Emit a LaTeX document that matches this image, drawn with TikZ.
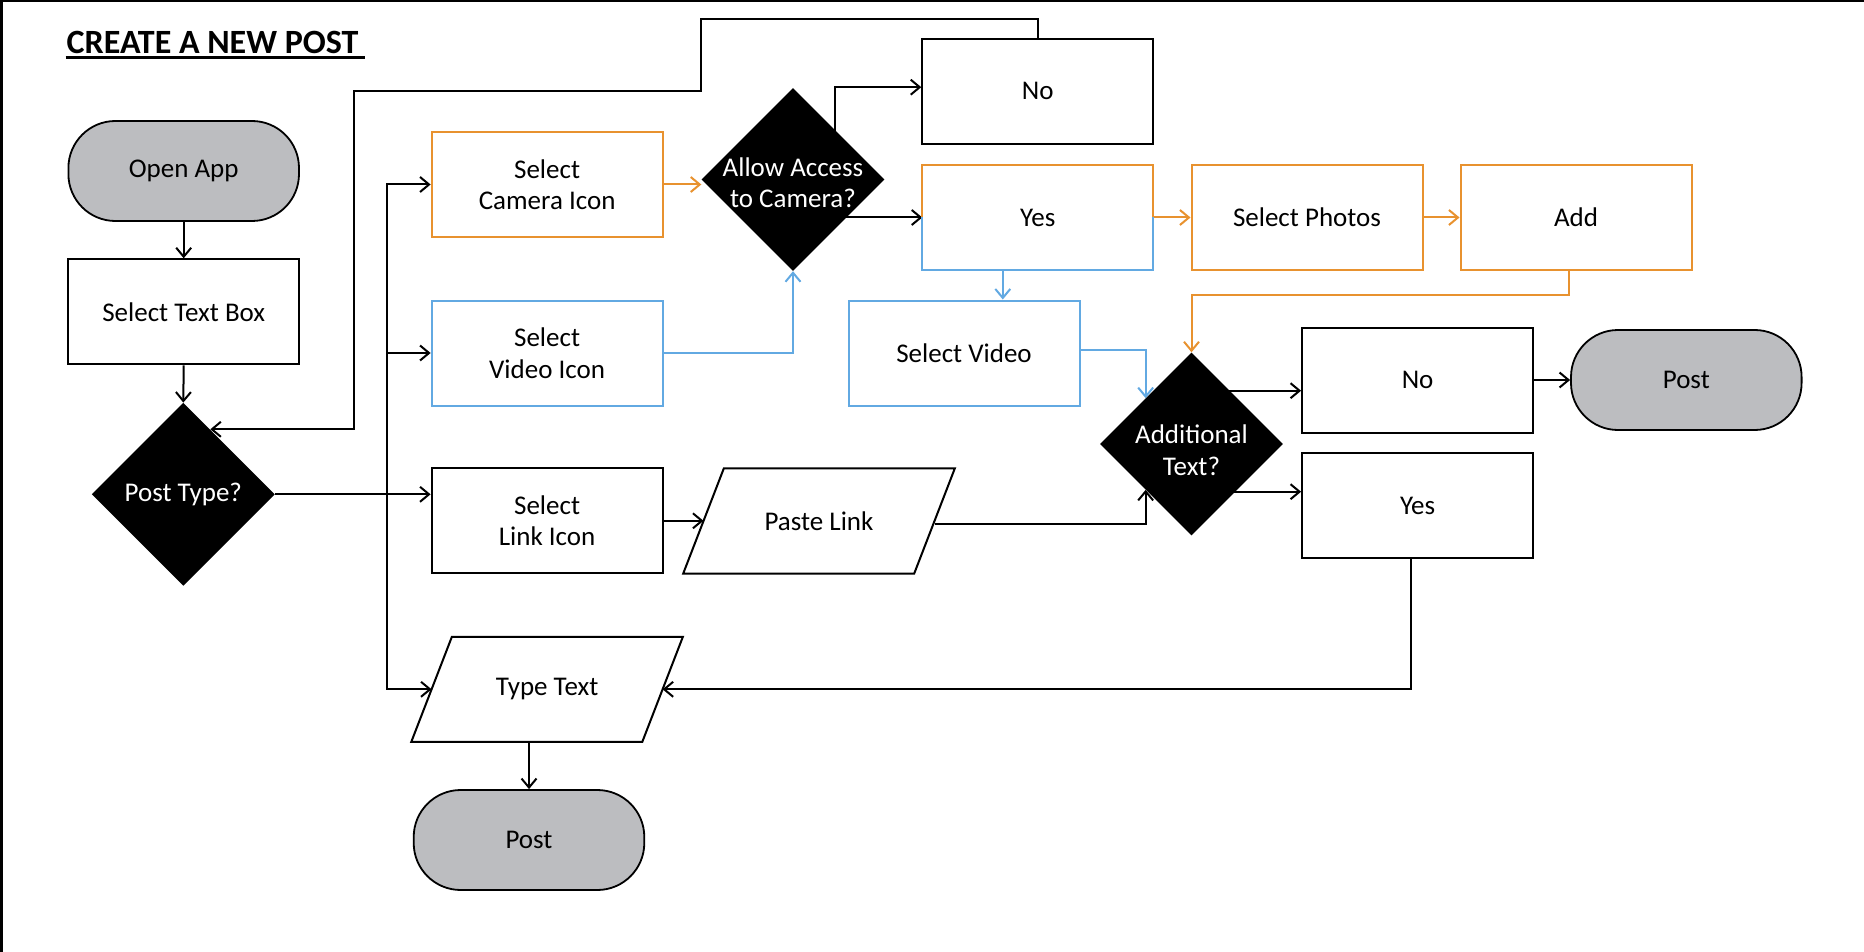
\documentclass[tikz,border=0pt]{standalone}
\usepackage{fontspec}
\setmainfont{Carlito}
\usetikzlibrary{arrows.meta,shapes.geometric,calc,backgrounds}
\definecolor{cgray}{HTML}{BCBDC0}
\definecolor{corange}{HTML}{E8922F}
\definecolor{cblue}{HTML}{62A9E2}
\begin{document}
\begin{tikzpicture}[x=1pt,y=-1pt,
  nbase/.style={font=\fontsize{27}{31.5}\selectfont, align=center, inner sep=0pt},
  nbox/.style={nbase, rectangle, draw=black, line width=2pt, fill=white, minimum width=231pt, minimum height=105pt},
  orangebox/.style={nbox, draw=corange},
  bluebox/.style={nbox, draw=cblue},
  nterm/.style={nbase, rectangle, rounded corners=47pt, draw=black, line width=1.8pt, fill=cgray, minimum width=230.6pt, minimum height=100pt},
  ndia/.style={diamond, aspect=1, fill=black, draw=none, minimum width=183pt, minimum height=183pt, inner sep=0pt},
  dlab/.style={nbase, text=white},
  npara/.style={nbase, minimum width=230.6pt, minimum height=104.7pt},
  paraline/.style={line width=2pt, line join=miter, fill=white},
  conn/.style={line width=2pt, -{Straight Barb[length=9pt,width=15pt]}},
  oconn/.style={conn, draw=corange},
  bconn/.style={conn, draw=cblue},
]
\useasboundingbox (0,0) rectangle (1864,952);
% frame
\draw[line width=2.5pt] (1.25,952) -- (1.25,1.25) -- (1864,1.25);
% title
\node[anchor=base west, font=\fontsize{34}{40}\selectfont\bfseries, inner sep=0pt] (title) at (66.5,53.3) {CREATE A NEW POST};
\draw[line width=2.5pt] ($(title.base west)+(-1,4.2)$) -- ($(title.base east)+(6,4.2)$);

% nodes
\node[nterm] (open) at (183.7,171) {Open App};
\node[nbox] (tbox) at (183.7,311.8) {Select Text Box};
\node[ndia, label={[dlab]center:Post Type?}] (pt) at (183.3,494.3) {};
\node[orangebox] (cam) at (547.1,184.5) {Select\\Camera Icon};
\node[bluebox] (vid) at (547.1,353) {Select\\Video Icon};
\node[nbox] (link) at (547.1,520.8) {Select\\Link Icon};
\node[npara] (ttext) at (547.1,689.3) {};
\node[npara] (paste) at (819,521) {};
\node[nterm] (post1) at (529,840) {Post};
\node[ndia, label={[dlab, yshift=-3pt]center:{Allow Access\\to Camera?}}] (d1) at (793,179.5) {};
\node[nbox] (no1) at (1037.8,91.2) {No};
\node[nbase, minimum width=230.6pt, minimum height=105pt, fill=white] (yes) at (1037.8,217.5) {};
\node[bluebox] (vid2) at (964,353) {Select Video};
\node[orangebox] (photos) at (1307,217.5) {Select Photos};
\node[orangebox] (add) at (1576,217.5) {Add};
\node[ndia, label={[dlab, yshift=-6pt]center:{Additional\\Text?}}] (d2) at (1191.5,444) {};
\node[nbox] (no2) at (1417.6,380) {No};
\node[nbox] (yes2) at (1417.6,505.7) {Yes};
\node[nterm] (post2) at (1686.3,380) {Post};

% parallelograms
\draw[paraline] ($(ttext.north west)+(20.3,0)$) -- ($(ttext.north east)+(20.3,0)$) -- ($(ttext.south east)+(-20.3,0)$) -- ($(ttext.south west)+(-20.3,0)$) -- cycle;
\node[nbase] at (ttext.center) {Type Text};
\draw[paraline] ($(paste.north west)+(20.3,0)$) -- ($(paste.north east)+(20.3,0)$) -- ($(paste.south east)+(-20.3,0)$) -- ($(paste.south west)+(-20.3,0)$) -- cycle;
\node[nbase] at (paste.center) {Paste Link};

% split border of Yes
\draw[corange, line width=2pt] (yes.west) -- (yes.north west) -- (yes.north east) -- (yes.east);
\draw[cblue, line width=2pt] (yes.east) -- (yes.south east) -- (yes.south west) -- (yes.west);
\node[nbase] at (yes.center) {Yes};

\coordinate (lpa) at (701.4,90.7);
\coordinate (lpb) at (353.7,429.3);

\begin{scope}[on background layer]
\draw[conn] (open.south) -- (tbox.north);
\draw[conn] (tbox.south) -- (pt.north);
\draw[conn] (pt.east) -- (pt.east -| link.west);
\path (pt.east) -- ++(111.6,0) coordinate (tr);
\draw[conn] (tr) |- (cam.west);
\draw[conn] (tr) |- (vid.west);
\draw[conn] (tr) |- (ttext.west);
\draw[oconn] (cam.east) -- (cam.east -| d1.west);
\draw[bconn] (vid.east) -| (d1.south);
\draw[conn] ($(d1.center)+(42,0)$) |- ($(no1.west)+(0,-4)$);
\draw[conn] (d1.center |- yes.west) -- (yes.west);
\draw[oconn] (yes.east) -- (photos.west);
\draw[oconn] (photos.east) -- (add.west);
\draw[bconn] ($(yes.south)+(-35,0)$) coordinate (yv) -- (yv |- vid2.north);
\draw[oconn] ($(add.south)+(-7,0)$) -- ++(0,24) -| (d2.north);
\draw[bconn] ($(vid2.east)+(0,-3)$) -| (d2.135);
\draw[conn] (link.east) -- (link.east -| paste.west);
\draw[conn] ($(paste.east)+(0,3)$) -| (d2.-135);
\draw[conn] ($(d2.center)+(0,-53.3)$) -- ($(no2.west)+(0,10.7)$);
\draw[conn] ($(d2.center)+(0,47.7)$) -- ($(yes2.west)+(0,-14)$);
\draw[conn] (no2.east) -- (post2.west);
\draw[conn] ($(yes2.south)+(-7,0)$) |- (ttext.east);
\draw[conn] (ttext.south -| post1.north) -- (post1.north);
\draw[conn] (no1.north) -- ++(0,-19) -| (lpa) -| (lpb) -- ($(pt.center)+(27,-65)$);
\end{scope}
\end{tikzpicture}
\end{document}
